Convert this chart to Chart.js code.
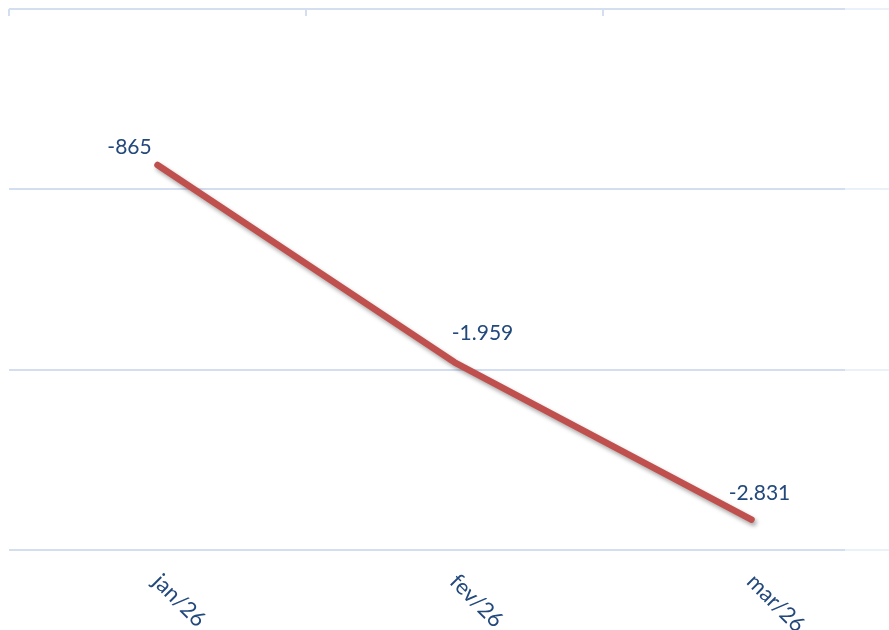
<!DOCTYPE html>
<html>
<head>
<meta charset="utf-8">
<script src="https://cdn.jsdelivr.net/npm/chart.js@4.4.1/dist/chart.umd.min.js"></script>
<style>
  html, body { margin: 0; padding: 0; background: #fff; overflow: hidden; }
  #wrap { width: 889px; height: 630px; overflow: hidden; }
  #box { width: 904px; height: 630px; }
</style>
</head>
<body>
<div id="wrap"><div id="box"><canvas id="grafico"></canvas></div></div>
<script>
// dados
var meses = ['jan/26', 'fev/26', 'mar/26'];
var valores = [-865, -1959, -2831];
var rotulos = ['-865', '-1.959', '-2.831'];
var ticksY = [0, -1000, -2000, -3000];

var corTexto = '#22487c';
var corGrade = '#d3dff1';
var fonte = 'Lato, "Open Sans", sans-serif';

// deslocamento dos rótulos em relação ao ponto
var desloc = [[-28, -18], [28, -29], [8, -26]];

// sombra da linha
var sombra = {
    id: 'sombra',
    beforeDatasetsDraw: function(chart) {
        var ctx = chart.ctx;
        ctx.save();
        ctx.shadowColor = 'rgba(0,0,0,0.35)';
        ctx.shadowBlur = 4;
        ctx.shadowOffsetX = 2;
        ctx.shadowOffsetY = 3;
    },
    afterDatasetsDraw: function(chart) {
        chart.ctx.restore();
    }
};

var extras = {
    id: 'extras',
    afterDraw: function(chart) {
        var ctx = chart.ctx;
        var xs = chart.scales.x;
        var area = chart.chartArea;
        var passo = xs.getPixelForValue(1) - xs.getPixelForValue(0);

        // marcas do eixo no topo
        ctx.save();
        ctx.strokeStyle = corGrade;
        ctx.lineWidth = 2;
        for (var i = 0; i <= meses.length; i++) {
            var bx = Math.round(xs.getPixelForValue(0) - passo / 2 + i * passo);
            ctx.beginPath();
            ctx.moveTo(bx, area.top);
            ctx.lineTo(bx, area.top + 7);
            ctx.stroke();
        }
        ctx.restore();

        // rótulos de dados
        var meta = chart.getDatasetMeta(0);
        ctx.save();
        ctx.font = '21px ' + fonte;
        ctx.fillStyle = corTexto;
        ctx.textAlign = 'center';
        ctx.textBaseline = 'middle';
        meta.data.forEach(function(p, i) {
            ctx.fillText(rotulos[i], p.x + desloc[i][0], p.y + desloc[i][1]);
        });

        // rótulos das categorias, girados
        ctx.font = '22px ' + fonte;
        ctx.textAlign = 'left';
        meses.forEach(function(m, i) {
            var x = xs.getPixelForValue(i);
            ctx.save();
            ctx.translate(x - 1, area.bottom + 28);
            ctx.rotate(Math.PI / 4);
            ctx.fillText(m, 0, 0);
            ctx.restore();
        });
        ctx.restore();

        // trecho mais claro à direita
        ctx.save();
        ctx.fillStyle = 'rgba(255,255,255,0.55)';
        ctx.fillRect(845, 0, chart.width - 845, area.bottom + 3);
        ctx.restore();
    }
};

new Chart(document.getElementById('grafico').getContext('2d'), {
    type: 'line',
    data: {
        labels: meses,
        datasets: [{
            data: valores,
            borderColor: '#c0504d',
            borderWidth: 6.5,
            borderCapStyle: 'round',
            borderJoinStyle: 'round',
            pointRadius: 0,
            tension: 0,
            fill: false
        }]
    },
    options: {
        responsive: true,
        maintainAspectRatio: false,
        animation: false,
        layout: { padding: { left: 9, right: 4, top: 9, bottom: 0 } },
        plugins: {
            legend: { display: false },
            tooltip: { enabled: false }
        },
        scales: {
            x: {
                offset: true,
                grid: { display: false },
                border: { display: false },
                ticks: { display: false },
                afterFit: function(s) { s.height = 80; }
            },
            y: {
                min: ticksY[ticksY.length - 1],
                max: ticksY[0],
                grid: { color: corGrade, lineWidth: 2, drawTicks: false },
                border: { display: false },
                ticks: { display: false, stepSize: 1000 },
                afterBuildTicks: function(s) {
                    s.ticks = ticksY.map(function(v) { return { value: v }; });
                },
                afterFit: function(s) { s.width = 0; }
            }
        }
    },
    plugins: [sombra, extras]
});
</script>
</body>
</html>
